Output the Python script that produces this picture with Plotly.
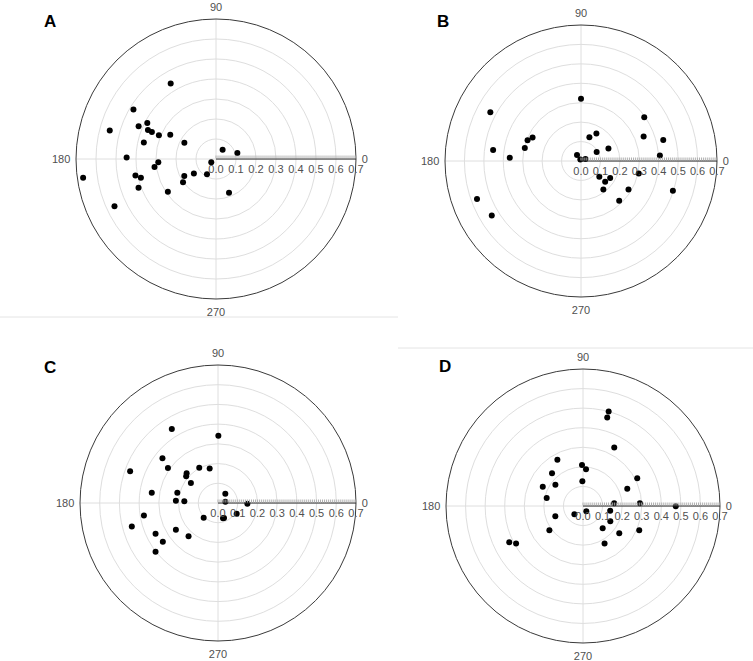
import plotly.graph_objects as go

# ---- data (radius, angle in degrees) ----
a_r = [0.440, 0.481, 0.550, 0.420, 0.388, 0.370, 0.348, 0.309, 0.259, 0.370, 0.178, 0.447, 0.671, 0.289,
       0.310, 0.411, 0.387, 0.413, 0.560, 0.291, 0.202, 0.180, 0.132, 0.089, 0.029, 0.057, 0.111, 0.181]
a_theta = [121.0, 149.1, 165.0, 157.1, 152.3, 156.9, 157.1, 157.5, 152.0, 167.2, 152.7, 179.1, 188.0, 183.3,
           187.4, 191.5, 194.0, 200.3, 205.0, 214.2, 215.3, 208.2, 213.1, 239.6, 215.5, 54.5, 15.7, 291.1]

b_r = [0.320, 0.530, 0.396, 0.456, 0.277, 0.295, 0.297, 0.367, 0.130, 0.162, 0.155, 0.093, 0.346, 0.437,
       0.407, 0.037, 0.009, 0.025, 0.304, 0.124, 0.174, 0.164, 0.186, 0.285, 0.284, 0.497, 0.570, 0.538]
b_theta = [90.0, 151.7, 34.7, 172.8, 154.2, 158.8, 166.9, 177.3, 70.6, 60.7, 24.3, 29.9, 21.3, 14.4,
           3.9, 123.7, 112.0, 24.8, 347.9, 319.5, 329.6, 319.3, 308.2, 329.1, 313.8, 342.1, 200.1, 211.4]

c_r = [0.442, 0.341, 0.362, 0.310, 0.474, 0.202, 0.180, 0.219, 0.211, 0.171, 0.340, 0.213, 0.214, 0.171,
       0.060, 0.038, 0.149, 0.109, 0.082, 0.082, 0.104, 0.381, 0.453, 0.253, 0.225, 0.353, 0.342, 0.402]
c_theta = [122.0, 89.7, 141.1, 145.0, 160.1, 118.1, 103.6, 136.6, 139.9, 143.5, 171.1, 165.7, 176.8, 177.2,
           51.8, 10.3, 358.7, 330.3, 288.1, 291.8, 225.7, 189.5, 195.2, 212.4, 228.4, 206.2, 215.1, 218.0]

d_r = [0.500, 0.469, 0.339, 0.270, 0.209, 0.188, 0.230, 0.127, 0.178, 0.228, 0.190, 0.311, 0.243, 0.160,
       0.291, 0.474, 0.032, 0.061, 0.151, 0.141, 0.160, 0.152, 0.232, 0.313, 0.221, 0.212, 0.420, 0.392]
d_theta = [74.8, 74.7, 61.9, 119.0, 91.4, 85.3, 133.5, 91.5, 142.4, 154.4, 167.6, 27.0, 21.4, 4.9,
           2.7, 359.8, 302.0, 223.9, 200.5, 350.3, 330.7, 311.4, 323.0, 336.6, 299.9, 215.9, 206.2, 209.3]

panel_labels = ["A", "B", "C", "D"]
angle_ticks = [0, 90, 180, 270]
angle_text = ["0", "90", "180", "270"]
grid_ticks = [0.1, 0.2, 0.3, 0.4, 0.5, 0.6]
radial_ticks = [round(i * 0.01, 2) for i in range(71)]
radial_text = [f"{v:.1f}" if i % 10 == 0 else "" for i, v in enumerate(radial_ticks)]

W, H = 753, 661
# panel geometry: (center x, center y, radius) in window pixels
geom = [(216, 159, 140), (581, 161, 136), (218, 503, 138), (583, 506, 137)]
letter_pos = [(50, 22), (443, 22), (50, 367), (445, 366)]
data = [(a_r, a_theta), (b_r, b_theta), (c_r, c_theta), (d_r, d_theta)]


def px(x):
    return x / W


def py(y):
    return 1 - y / H


def dom(cx, cy, R):
    return dict(x=[px(cx - R), px(cx + R)], y=[py(cy + R), py(cy - R)])


font = dict(size=11, color="#505050", family="Liberation Sans, Arial")
fig = go.Figure()
layout = {}
for i, ((cx, cy, R), (rr, tt)) in enumerate(zip(geom, data)):
    gname = "polar" if i == 0 else f"polar{2 * i + 1}"
    tname = f"polar{2 * i + 2}"
    d = dom(cx, cy, R)
    layout[gname] = dict(
        domain=d, bgcolor="rgba(0,0,0,0)",
        radialaxis=dict(range=[0, 0.7], tickmode="array", tickvals=grid_ticks,
                        showticklabels=False, ticks="", showline=False,
                        gridcolor="#dedede", gridwidth=1),
        angularaxis=dict(tickmode="array", tickvals=angle_ticks, ticktext=angle_text,
                         rotation=0, direction="counterclockwise",
                         ticks="outside", ticklen=3, tickcolor="rgba(0,0,0,0)",
                         showline=True, linecolor="#3a3a3a", linewidth=1,
                         gridcolor="#dedede", gridwidth=1, tickfont=font),
    )
    layout[tname] = dict(
        domain=d, bgcolor="rgba(0,0,0,0)",
        radialaxis=dict(range=[0, 0.7], angle=0, tickmode="array", tickvals=radial_ticks,
                        ticktext=radial_text, ticks="inside", ticklen=3, tickwidth=1,
                        tickcolor="#b0b0b0", showline=True, linecolor="#222", linewidth=1,
                        showgrid=False, tickfont=font),
        angularaxis=dict(visible=False, rotation=0, direction="counterclockwise"),
    )
    fig.add_trace(go.Scatterpolar(r=[0], theta=[0], mode="markers", subplot=gname,
                                  marker=dict(size=1, opacity=0), hoverinfo="skip",
                                  showlegend=False))
    fig.add_trace(go.Scatterpolar(r=rr, theta=tt, mode="markers", subplot=tname,
                                  marker=dict(color="black", size=6), showlegend=False))

annotations = []
for lab, (lx, ly) in zip(panel_labels, letter_pos):
    annotations.append(dict(text=f"<b>{lab}</b>", x=px(lx), y=py(ly), xref="paper", yref="paper",
                            xanchor="center", yanchor="middle", showarrow=False,
                            font=dict(size=17, color="black", family="Liberation Sans, Arial")))

shapes = [
    dict(type="line", xref="paper", yref="paper", x0=0, x1=px(398), y0=py(317), y1=py(317),
         line=dict(color="#e4e4e4", width=1)),
    dict(type="line", xref="paper", yref="paper", x0=px(398), x1=1, y0=py(348), y1=py(348),
         line=dict(color="#e4e4e4", width=1)),
]

fig.update_layout(template="none", width=W, height=H, margin=dict(l=0, r=0, t=0, b=0),
                  paper_bgcolor="white", plot_bgcolor="white",
                  annotations=annotations, shapes=shapes, showlegend=False, **layout)

fig.write_html("out.html", config={"displayModeBar": False},
               post_script="document.body.style.margin='0px';")
